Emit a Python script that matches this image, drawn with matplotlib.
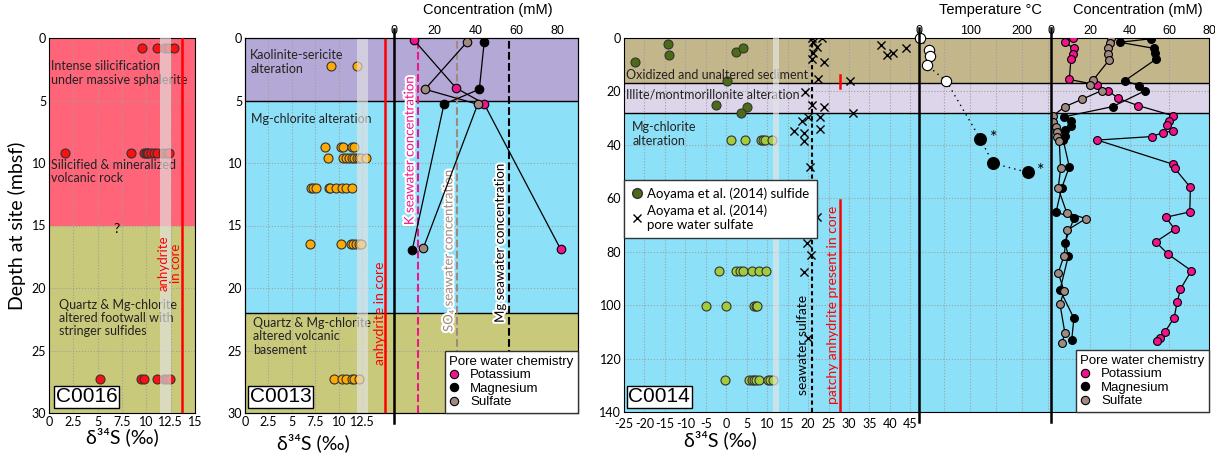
import numpy as np
import matplotlib.pyplot as plt
from matplotlib import patheffects as pe
from matplotlib.lines import Line2D

plt.rcParams['font.family'] = ['Lato', 'DejaVu Sans']
plt.rcParams['axes.unicode_minus'] = False

W, H = 1215, 454


def box(l, r, t, b):
    return [l / W, 1 - b / H, (r - l) / W, (b - t) / H]


# zone colours
pink_zone = '#ff6479'
olive_zone = '#c9c97b'
purple_zone = '#b4a8d6'
cyan_zone = '#8ce1f9'
tan_zone = '#c3b68b'
lav_zone = '#ddd6ea'
k_col = '#f0148c'
so4_col = '#a08a80'
arial = ['Liberation Sans', 'DejaVu Sans']

# ---------------- data ----------------
# C0016 sulfide d34S
c16_depth = [0.8, 9.2, 27.3]
c16_vals = [[9.6, 11.1, 11.9, 12.3, 12.8],
            [1.6, 8.4, 9.8, 10.0, 10.1, 10.2, 10.5, 10.8, 11.1, 11.7, 12.1, 12.3],
            [5.2, 9.5, 9.8, 11.1, 11.8, 12.1, 12.4]]

# C0013 sulfide d34S
c13_depth = [2.2, 8.7, 9.6, 12.0, 16.45, 27.3]
c13_vals = [[9.2, 11.9],
            [8.5, 10.2, 10.4, 11.45, 11.6],
            [8.85, 10.45, 10.8, 11.1, 11.45, 11.6, 11.9, 12.15, 12.4, 12.95],
            [7.07, 7.3, 7.6, 8.95, 9.1, 9.7, 10.3, 10.8, 11.45],
            [6.9, 10.2, 11.35, 11.5, 11.8, 12.15, 12.4],
            [9.45, 10.3, 10.8, 11.45, 11.6, 12.2]]

# C0013 pore water (mM)
c13_pw_depth = [0.2, 4.0, 5.25, 16.9]
c13_k = [10.2, 30.6, 44.3, 81.8]
c13_mg_depth = [0.3, 4.1, 5.3, 17.0]
c13_mg = [44.4, 42.0, 24.7, 9.1]
c13_so4_depth = [0.3, 4.1, 5.3, 16.8]
c13_so4 = [36.1, 15.4, 41.2, 14.6]
sw_k, sw_so4, sw_mg = 11.8, 30.9, 56.5

# C0014 Aoyama et al. (2014) sulfide
aoy_d34s = [-22.2, -14.3, -14.1, 2.4, 4.2, 0.2, -2.4, 5.0, 3.6]
aoy_depth = [8.9, 2.4, 6.4, 5.4, 3.9, 16.1, 25.1, 26.0, 28.0]

# C0014 sulfide d34S (this study)
c14_depth = [38.1, 87.2, 100.3, 127.9]
c14_vals = [[1.2, 4.6, 8.5, 9.1, 9.5, 11.1],
            [-1.7, 2.4, 3.4, 4.2, 6.3, 8.1, 9.8],
            [-4.9, 0.0, 6.9, 7.3, 7.6],
            [-0.4, 5.6, 6.3, 6.8, 7.3, 8.1, 10.1, 10.7, 11.5]]

# Aoyama et al. (2014) pore water sulfate d34S
pws_d34s = [20.9, 23.3, 21.1, 22.1, 21.3, 20.9, 23.9, 22.4, 30.2, 37.8, 39.3,
            40.8, 43.9, 19.3, 21.0, 23.9, 31.0, 20.1, 18.5, 22.8, 22.9, 16.6,
            18.9, 19.1, 20.5, 22.1, 20.7, 19.7, 20.7, 18.9, 20.1]
pws_depth = [0.1, 0.1, 1.4, 3.2, 5.7, 8.0, 8.9, 15.5, 16.1, 2.6, 6.4,
             5.5, 3.9, 20.1, 25.1, 26.0, 28.2, 29.5, 31.0, 29.7, 34.2, 34.8,
             35.7, 38.4, 48.2, 67.1, 71.9, 76.6, 81.2, 87.5, 112.4]

# C0014 temperature
temp_open = [3, 20.5, 21.8, 16, 54]
temp_open_depth = [0.0, 4.5, 6.7, 10.1, 16.2]
temp_fill = [119.5, 144, 211]
temp_fill_depth = [37.8, 46.9, 50.3]

# C0014 pore water (mM)
c14_k_depth = [0.1, 1.6, 3.9, 6.0, 8.0, 15.5, 17.6, 19.7, 22.6, 25.3, 29.1, 31.0,
               32.7, 34.8, 35.4, 36.9, 38.2, 47.2, 48.8, 55.9, 65.1, 67.1, 71.6,
               76.3, 80.9, 87.1, 94.0, 99.0, 104.7, 110.1, 112.2, 113.3]
c14_k = [11.5, 7.3, 11.8, 11.2, 10.3, 9.5, 23.6, 29.1, 34.2, 44.2, 61.9, 59.9,
         58.8, 61.6, 56.8, 51.0, 23.6, 61.6, 62.7, 70.6, 70.3, 58.2, 62.7,
         53.1, 59.3, 71.1, 65.6, 63.9, 62.4, 57.7, 55.5, 53.8]
c14_mg_depth = [0.3, 1.6, 3.9, 5.7, 8.0, 16.0, 17.8, 19.8, 25.7, 29.5, 31.0, 33.0,
                34.4, 36.7, 38.2, 48.2, 56.3, 65.1, 67.5, 76.6, 81.6, 94.3, 104.9,
                113.1]
c14_mg = [50.5, 35.0, 52.3, 52.6, 53.1, 37.5, 44.7, 47.6, 31.3, 6.8, 10.2, 10.2,
          7.3, 7.3, 6.4, 9.5, 5.6, 2.8, 11.8, 7.3, 9.0, 4.8, 11.8, 10.7]
c14_so4_depth = [0.1, 1.7, 3.9, 6.0, 8.2, 15.7, 17.6, 19.7, 23.0, 25.7, 29.2, 31.3,
                 33.2, 35.1, 36.9, 38.4, 48.8, 56.3, 65.4, 67.6, 71.9, 81.6, 87.9,
                 94.6, 99.7, 110.6, 114.3]
c14_so4 = [30.3, 30.0, 29.1, 29.1, 29.6, 21.6, 19.9, 25.8, 15.7, 7.3, 1.1, 1.4,
           2.8, 3.1, 3.4, 4.4, 5.1, 3.9, 8.2, 17.9, 8.5, 6.8, 3.9, 6.8, 4.8, 7.3,
           5.6]

# ---------------- figure ----------------
fig = plt.figure(figsize=(W / 100, H / 100), dpi=100)

grid_kw = dict(color='#a0a0a0', linestyle=':', linewidth=0.8)
tick_kw = dict(length=0, labelsize=9, pad=2)
ann = dict(fontsize=9, color='#222222')


def scatter_rows(ax, depths, rows, color, size=42):
    for d, r in zip(depths, rows):
        ax.scatter(r, [d] * len(r), s=size, color=color, edgecolor='#333333',
                   linewidth=0.8, zorder=3)


def label_box(ax, txt, x, y):
    ax.text(x, y, txt, transform=ax.transAxes, fontsize=15, family=arial,
            va='bottom', ha='left', zorder=10,
            bbox=dict(facecolor='white', edgecolor='black', pad=1.2, lw=1))


def d34s_label(ax):
    ax.set_xlabel('δ³⁴S (‰)', fontsize=14, labelpad=0)


# ---- C0016 ----
ax1 = fig.add_axes(box(49, 195, 38, 413))
ax1.axhspan(0, 15, color=pink_zone, zorder=0.2, lw=0)
ax1.axhspan(15, 30, color=olive_zone, zorder=0.2, lw=0)
ax1.set_axisbelow(True)
ax1.grid(True, **grid_kw)
scatter_rows(ax1, c16_depth, c16_vals, '#ff1010')
ax1.axvspan(11.4, 12.5, color='#e4e4e4', alpha=0.65, zorder=4, lw=0)
ax1.axvline(13.7, color='red', lw=1.8, zorder=5)
ax1.set_xlim(0, 15)
ax1.set_ylim(30, 0)
ax1.set_xticks([0, 2.5, 5, 7.5, 10, 12.5, 15])
ax1.set_xticklabels(['0', '2.5', '5', '7.5', '10', '12.5', '15'])
ax1.set_yticks(range(0, 31, 5))
ax1.tick_params(**tick_kw)
ax1.set_ylabel('Depth at site (mbsf)', fontsize=14, labelpad=4)
d34s_label(ax1)
ax1.text(0.25, 1.8, 'Intense silicification\nunder massive sphalerite', va='top',
         linespacing=1.1, **ann)
ax1.text(0.25, 9.7, 'Silicified & mineralized\nvolcanic rock', va='top',
         linespacing=1.1, **ann)
ax1.text(6.9, 15.3, '?', ha='center', va='center', fontsize=10)
ax1.text(1.0, 20.9, 'Quartz & Mg-chlorite\naltered footwall with\nstringer sulfides',
         va='top', linespacing=1.1, **ann)
ax1.text(12.4, 18, 'anhydrite\nin core', rotation=90, ha='center', va='center',
         color='red', fontsize=9.5, linespacing=1.0, zorder=6)
label_box(ax1, 'C0016', 0.045, 0.018)

# ---- C0013 ----
ax2 = fig.add_axes(box(245, 578, 38, 413))
ax2.axhspan(0, 5, color=purple_zone, zorder=0.2, lw=0)
ax2.axhspan(5, 22, color=cyan_zone, zorder=0.2, lw=0)
ax2.axhspan(22, 30, color=olive_zone, zorder=0.2, lw=0)
ax2.axhline(5, color='black', lw=1, zorder=1)
ax2.axhline(22, color='black', lw=1, zorder=1)
ax2.set_axisbelow(True)
ax2.grid(True, **grid_kw)
scatter_rows(ax2, c13_depth, c13_vals, '#ffaa00')
ax2.axvspan(11.9, 13.1, color='#e4e4e4', alpha=0.65, zorder=4, lw=0)
ax2.axvline(14.9, color='red', lw=1.8, zorder=5)
ax2.set_xlim(0, 35.5)
ax2.set_ylim(30, 0)
ax2.set_xticks([0, 2.5, 5, 7.5, 10, 12.5])
ax2.set_xticklabels(['0', '2.5', '5', '7.5', '10', '12.5'])
ax2.set_yticks(range(0, 31, 5))
ax2.tick_params(**tick_kw)
d34s_label(ax2)
ax2.xaxis.set_label_coords((313 - 245) / 333, -0.055)
ax2.text(0.55, 0.9, 'Kaolinite-sericite\nalteration', va='top', linespacing=1.2, **ann)
ax2.text(0.6, 6.5, 'Mg-chlorite alteration', va='center', **ann)
ax2.text(0.85, 22.3, 'Quartz & Mg-chlorite\naltered volcanic\nbasement', va='top',
         linespacing=1.15, **ann)
ax2.text(14.4, 22, 'anhydrite in core', rotation=90, ha='center', va='center',
         color='red', fontsize=10, zorder=6)
label_box(ax2, 'C0013', 0.015, 0.018)

ax2c = ax2.twiny()
ax2c.set_xlim(-72.7, 90.3)
ax2c.set_xticks([0, 20, 40, 60, 80])
ax2c.tick_params(length=0, labelsize=9, pad=1)
for t in ax2c.get_xticklabels():
    t.set_family(arial)
ax2c.set_xlabel('Concentration (mM)', fontsize=10.5, family=arial, labelpad=2)
ax2c.xaxis.set_label_coords(0.73, 1.065)
ax2c.axvline(0, ymin=-0.027, ymax=1.025, color='black', lw=1.8, clip_on=False,
             zorder=6)
stroke = [pe.withStroke(linewidth=3, foreground='white')]
ax2c.axvline(sw_k, color=k_col, ls='--', lw=1.5, zorder=2)
ax2c.axvline(sw_so4, color=so4_col, ls='--', lw=1.5, zorder=2)
ax2c.axvline(sw_mg, color='black', ls='--', lw=1.5, zorder=2)
ax2c.text(sw_k - 4, 9, 'K seawater concentration', rotation=90, ha='center',
          va='center', color=k_col, fontsize=9.5, path_effects=stroke, zorder=3)
ax2c.text(sw_so4 - 4, 17, 'SO₄ seawater concentration', rotation=90, ha='center',
          va='center', color=so4_col, fontsize=9.5, path_effects=stroke, zorder=3)
ax2c.text(sw_mg - 4.5, 16.4, 'Mg seawater concentration', rotation=90, ha='center',
          va='center', color='black', fontsize=9.5, path_effects=stroke, zorder=3)
pw_kw = dict(edgecolor='black', linewidth=0.8, s=38, zorder=5)
ax2c.plot(c13_k, c13_pw_depth, color='black', lw=0.9, zorder=4)
ax2c.plot(c13_mg, c13_mg_depth, color='black', lw=0.9, zorder=4)
ax2c.plot(c13_so4, c13_so4_depth, color='black', lw=0.9, zorder=4)
ax2c.scatter(c13_k, c13_pw_depth, color=k_col, **pw_kw)
ax2c.scatter(c13_mg, c13_mg_depth, color='black', **pw_kw)
ax2c.scatter(c13_so4, c13_so4_depth, color=so4_col, **pw_kw)
ax2c.set_ylim(30, 0)


def pw_legend(ax):
    h = [Line2D([], [], ls='', marker='o', ms=6, mfc=c, mec='black', mew=0.8)
         for c in (k_col, 'black', so4_col)]
    leg = ax.legend(h, ['Potassium', 'Magnesium', 'Sulfate'],
                    title='Pore water chemistry', loc='lower right',
                    bbox_to_anchor=(1, 0), borderaxespad=0, fancybox=False,
                    framealpha=1, edgecolor='#333333', prop=dict(family=arial, size=9.5),
                    title_fontproperties=dict(family=arial, size=9.5),
                    alignment='left', handlelength=0.8, handletextpad=0.8,
                    labelspacing=0.1, borderpad=0.35)
    leg.set_zorder(20)
    leg.get_frame().set_linewidth(1)


pw_legend(ax2c)

# ---- C0014 ----
ax3s = fig.add_axes(box(624, 918.5, 38, 412))
ax3t = fig.add_axes(box(918.5, 1050.5, 38, 412), sharey=ax3s)
ax3c = fig.add_axes(box(1050.5, 1209, 38, 412), sharey=ax3s)
for ax in (ax3s, ax3t, ax3c):
    ax.axhspan(0, 17, color=tan_zone, zorder=0.2, lw=0)
    ax.axhspan(17, 28.2, color=lav_zone, zorder=0.2, lw=0)
    ax.axhspan(28.2, 140, color=cyan_zone, zorder=0.2, lw=0)
    ax.axhline(17, color='black', lw=1, zorder=1)
    ax.axhline(28.2, color='black', lw=1, zorder=1)
    ax.set_axisbelow(True)
    ax.grid(True, **grid_kw)
    ax.tick_params(**tick_kw)
ax3s.spines['right'].set_visible(False)
ax3t.spines['left'].set_visible(False)
ax3t.spines['right'].set_visible(False)
ax3c.spines['left'].set_visible(False)
ax3s.set_ylim(140, 0)
ax3s.set_yticks(range(0, 141, 20))
ax3t.tick_params(labelleft=False)
ax3c.tick_params(labelleft=False)

# d34S part
ax3s.set_xlim(-25, 47)
ax3s.set_xticks(range(-25, 46, 5))
ax3s.tick_params(axis='x', labelsize=9, pad=4)
d34s_label(ax3s)
ax3s.xaxis.set_label_coords((720 - 624) / 294.5, -0.05)
ax3s.scatter(aoy_d34s, aoy_depth, s=42, color='#4b6b17', edgecolor='#333333',
             linewidth=0.8, zorder=3)
scatter_rows(ax3s, c14_depth, c14_vals, '#a3cc3c')
ax3s.scatter(pws_d34s, pws_depth, marker='x', s=34, color='black', lw=1, zorder=3)
ax3s.axvspan(11.5, 12.9, color='#e4e4e4', alpha=0.7, zorder=4, lw=0)
ax3s.axvline(21, color='black', ls=(0, (2, 1.5)), lw=1.5, zorder=2)
ax3s.plot([27.8, 27.8], [13.9, 18.6], color='red', lw=1.8, zorder=5)
ax3s.plot([27.8, 27.8], [60.7, 140], color='red', lw=1.8, zorder=5)
ax3s.text(20.3, 115, 'seawater sulfate', rotation=90, ha='right', va='center',
          fontsize=10, zorder=6)
ax3s.text(27.5, 100, 'patchy anhydrite present in core', rotation=90, ha='right',
          va='center', fontsize=10, color='red', zorder=6)
ax3s.text(-24.5, 13.9, 'Oxidized and unaltered sediment', va='center', **ann)
ax3s.text(-24.5, 21.1, 'Illite/montmorillonite alteration', va='center', **ann)
ax3s.text(-23, 31, 'Mg-chlorite\nalteration', va='top', linespacing=1.2, **ann)
h_aoy = [Line2D([], [], ls='', marker='o', ms=7, mfc='#4b6b17', mec='#333333'),
         Line2D([], [], ls='', marker='x', ms=6, color='black')]
leg3 = ax3s.legend(h_aoy, ['Aoyama et al. (2014) sulfide',
                           'Aoyama et al. (2014)\npore water sulfate'],
                   loc='upper left', bbox_to_anchor=(0, 0.62), borderaxespad=0,
                   fancybox=False, framealpha=1, edgecolor='#333333', fontsize=9.5,
                   handlelength=0.8, handletextpad=0.4, labelspacing=0.35,
                   borderpad=0.55)
leg3.set_zorder(20)
leg3.get_frame().set_linewidth(1)
label_box(ax3s, 'C0014', 0.015, 0.015)

# temperature part
ax3t.set_xlim(0, 255)
ax3t.set_xticks(range(0, 251, 50))
ax3t.set_xticklabels(['0', '', '100', '', '200', ''])
ax3t.xaxis.tick_top()
ax3t.tick_params(axis='x', length=0, pad=1, labelsize=9)
for t in ax3t.get_xticklabels():
    t.set_family(arial)
ax3t.set_xlabel('Temperature °C', fontsize=10.5, family=arial, labelpad=2)
ax3t.xaxis.set_label_position('top')
ax3t.xaxis.set_label_coords((990 - 918.5) / 132, 1.065)
ax3t.axvline(0, ymin=-0.027, ymax=1.027, color='black', lw=1.8, clip_on=False,
             zorder=6)
ax3t.plot(temp_open + temp_fill, temp_open_depth + temp_fill_depth, color='black',
          ls=(0, (1, 3)), lw=1, zorder=3)
ax3t.scatter(temp_open, temp_open_depth, s=55, color='white', edgecolor='black',
             linewidth=0.8, zorder=4, clip_on=False)
ax3t.scatter(temp_fill, temp_fill_depth, s=70, color='black', zorder=4)
for i in (0, 2):
    ax3t.annotate('*', (temp_fill[i], temp_fill_depth[i]), xytext=(7, 1),
                  textcoords='offset points', fontsize=13, va='center')

# concentration part
ax3c.set_xlim(0, 80)
ax3c.set_xticks(range(0, 81, 20))
ax3c.xaxis.tick_top()
ax3c.tick_params(axis='x', length=0, pad=1, labelsize=9)
for t in ax3c.get_xticklabels():
    t.set_family(arial)
ax3c.set_xlabel('Concentration (mM)', fontsize=10.5, family=arial, labelpad=2)
ax3c.xaxis.set_label_position('top')
ax3c.xaxis.set_label_coords(0.55, 1.065)
ax3c.axvline(0, ymin=-0.027, ymax=1.027, color='black', lw=1.8, clip_on=False,
             zorder=6)
pw_kw2 = dict(edgecolor='black', linewidth=0.8, s=32, zorder=5)
ax3c.plot(c14_k, c14_k_depth, color='black', lw=0.9, zorder=4)
ax3c.plot(c14_mg, c14_mg_depth, color='black', lw=0.9, zorder=4)
ax3c.plot(c14_so4, c14_so4_depth, color='black', lw=0.9, zorder=4)
ax3c.scatter(c14_k, c14_k_depth, color=k_col, **pw_kw2)
ax3c.scatter(c14_mg, c14_mg_depth, color='black', **pw_kw2)
ax3c.scatter(c14_so4, c14_so4_depth, color=so4_col, **pw_kw2)
pw_legend(ax3c)

fig.savefig('out.png', dpi=100)
